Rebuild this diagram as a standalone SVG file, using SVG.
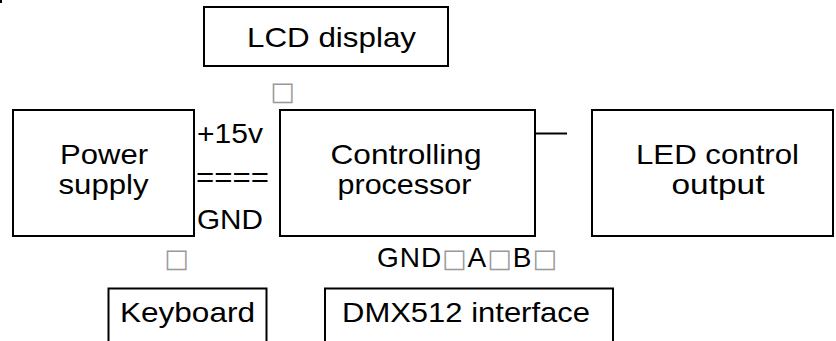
<svg xmlns="http://www.w3.org/2000/svg" width="836" height="341" viewBox="0 0 836 341">
<style>
.box{fill:#fff;stroke:#000;stroke-width:2}
.t{font-family:"Liberation Sans",Arial,sans-serif;font-size:28px;fill:#000}
.m{text-anchor:middle}
.tofu{font-family:"DejaVu Sans",sans-serif;font-size:26px;fill:#999}
.wire{stroke:#000;stroke-width:2;fill:none}
</style>
<rect width="836" height="341" fill="#fff"/>
<path d="M1,0 V3" stroke="#000" stroke-width="2"/>
<g id="lcd">
<rect class="box" x="204" y="7" width="244" height="59"/>
<text class="t m" x="331.5" y="47" textLength="169" lengthAdjust="spacingAndGlyphs">LCD display</text>
</g>
<g id="power">
<rect class="box" x="13" y="110" width="181" height="126"/>
<text class="t m" x="104" y="163.5" textLength="88" lengthAdjust="spacingAndGlyphs">Power</text>
<text class="t m" x="103.5" y="194" textLength="90" lengthAdjust="spacingAndGlyphs">supply</text>
</g>
<g id="processor">
<rect class="box" x="280" y="110" width="255" height="126"/>
<text class="t m" x="406" y="164" textLength="151" lengthAdjust="spacingAndGlyphs">Controlling</text>
<text class="t m" x="404.5" y="194" textLength="134" lengthAdjust="spacingAndGlyphs">processor</text>
</g>
<g id="led">
<rect class="box" x="592" y="110" width="241" height="126"/>
<text class="t m" x="717.5" y="163.5" textLength="163" lengthAdjust="spacingAndGlyphs">LED control</text>
<text class="t m" x="718" y="194" textLength="93" lengthAdjust="spacingAndGlyphs">output</text>
</g>
<g id="keyboard">
<rect class="box" x="108.5" y="288.5" width="158" height="70"/>
<text class="t m" x="187.5" y="322" textLength="135" lengthAdjust="spacingAndGlyphs">Keyboard</text>
</g>
<g id="dmx">
<rect class="box" x="325" y="288.5" width="288" height="70"/>
<text class="t m" x="466" y="322" textLength="248" lengthAdjust="spacingAndGlyphs">DMX512 interface</text>
</g>
<g id="connectors">
<line class="wire" x1="535" y1="133.5" x2="567" y2="133.5"/>
<text class="tofu m" x="282.5" y="100">□</text>
<text class="tofu m" x="176.5" y="267">□</text>
<text class="t" x="197" y="143" textLength="66" lengthAdjust="spacingAndGlyphs">+15v</text>
<text class="t" x="196" y="187" textLength="73" lengthAdjust="spacingAndGlyphs">====</text>
<text class="t" x="197" y="229" textLength="66" lengthAdjust="spacingAndGlyphs">GND</text>
<text class="t" x="377" y="267" textLength="180" lengthAdjust="spacing">GND<tspan class="tofu">□</tspan>A<tspan class="tofu">□</tspan>B<tspan class="tofu">□</tspan></text>
</g>
</svg>
